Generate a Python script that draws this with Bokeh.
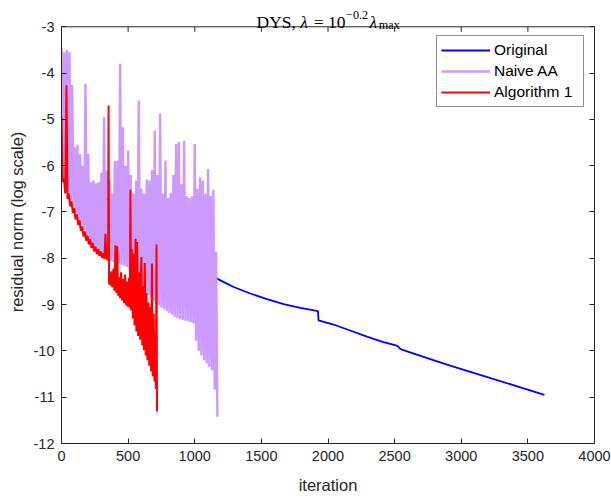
from bokeh.plotting import figure
from bokeh.models import Label, LinearAxis, FixedTicker, Range1d, Span
from bokeh.embed import file_html
from bokeh.resources import INLINE

# ---------------- data ----------------
x_ticks = [0, 500, 1000, 1500, 2000, 2500, 3000, 3500, 4000]
y_ticks = [-12, -11, -10, -9, -8, -7, -6, -5, -4, -3]

series_names = ["Original", "Naive AA", "Algorithm 1"]

# Original (blue)
orig_iter = [1, 20, 45, 75, 110, 155, 200, 250, 280, 330, 375, 420, 470, 530, 600,
             680, 760, 855, 945, 1030, 1104, 1140, 1167, 1230, 1292, 1417, 1542,
             1667, 1793, 1925, 1929, 2041, 2166, 2292, 2416, 2510, 2525, 2545, 2560,
             2666, 2791, 2917, 3141, 3391, 3624]
orig_res = [-5.90, -6.12, -6.28, -6.40, -6.62, -6.82, -7.00, -7.16, -7.25, -7.37, -7.46,
            -7.55, -7.63, -7.71, -7.78, -7.85, -7.91, -7.97, -8.01, -8.07, -8.13, -8.24,
            -8.44, -8.53, -8.62, -8.76, -8.88, -8.99, -9.07, -9.14, -9.34, -9.43, -9.56,
            -9.69, -9.81, -9.88, -9.90, -9.96, -9.98, -10.08, -10.20, -10.32, -10.52,
            -10.74, -10.95]

# Naive AA (purple): local peaks at iterations 0,20,...,1160 and troughs at 10,30,...,1170
naive_peak_iter = list(range(0, 1161, 20))
naive_peaks = [-3.45, -3.55, -3.50, -3.55, -4.25, -5.60, -5.55, -5.75, -6.00, -4.23,
               -5.75, -6.35, -6.32, -6.38, -6.35, -6.15, -4.95, -6.10, -6.30, -6.60,
               -5.90, -5.89, -3.80, -5.17, -6.00, -5.67, -6.20, -6.60, -6.32, -4.59,
               -6.50, -6.60, -6.30, -6.32, -6.10, -5.24, -6.20, -4.88, -6.60, -5.89,
               -6.70, -6.59, -6.20, -5.53, -5.49, -6.40, -5.46, -6.66, -6.70, -6.66,
               -5.53, -6.50, -6.25, -6.32, -6.60, -6.07, -6.65, -6.52, -7.86]
naive_trough_iter = list(range(10, 1171, 20))
naive_troughs = [-6.35, -6.50, -6.62, -6.75, -6.88, -7.02, -7.15, -7.28, -7.40, -7.50,
                 -7.60, -7.70, -7.78, -7.85, -7.90, -7.95, -8.00, -8.03, -8.06, -8.08,
                 -8.10, -8.12, -8.14, -8.16, -8.19, -8.24, -8.30, -8.36, -8.42, -8.52,
                 -8.65, -8.73, -8.80, -8.84, -8.92, -8.98, -9.02, -9.06, -9.10, -9.14,
                 -9.18, -9.22, -9.26, -9.29, -9.31, -9.33, -9.35, -9.36, -9.38, -9.40,
                 -9.78, -10.00, -10.10, -10.20, -10.27, -10.35, -10.42, -10.84, -11.42]

# Algorithm 1 (red)
alg1_iter = [0, 8, 18, 28, 37, 45, 55, 65, 75, 85, 95, 105, 115, 125, 135, 145, 155,
             165, 175, 185, 195, 205, 215, 225, 235, 245, 255, 265, 275, 285, 295, 305,
             315, 322, 330, 338, 345, 350, 353, 357, 362, 368, 375, 382, 390, 397, 405,
             412, 418, 425, 432, 440, 447, 455, 462, 470, 477, 485, 492, 500, 507, 513,
             517, 522, 528, 535, 542, 548, 556, 562, 568, 575, 582, 590, 596, 600, 606,
             612, 618, 625, 632, 638, 645, 652, 658, 665, 672, 679, 685, 692, 698, 703,
             708, 713, 717]
alg1_res = [-4.94, -6.35, -6.28, -6.60, -4.26, -6.72, -6.60, -6.88, -6.77, -7.02, -6.91,
            -7.16, -7.05, -7.28, -7.17, -7.41, -7.31, -7.53, -7.42, -7.62, -7.51, -7.70,
            -7.59, -7.78, -7.67, -7.85, -7.75, -7.91, -7.80, -7.95, -7.85, -7.99, -7.89,
            -8.01, -7.47, -8.03, -7.94, -8.05, -4.70, -8.56, -8.32, -8.59, -8.28, -8.63,
            -8.22, -8.70, -7.72, -8.75, -7.74, -8.81, -8.40, -8.86, -8.30, -8.91, -8.45,
            -8.97, -8.35, -9.02, -8.50, -9.05, -8.42, -9.07, -6.52, -9.12, -7.80, -9.30,
            -7.90, -9.45, -7.58, -9.58, -7.65, -9.68, -8.30, -9.76, -8.45, -7.97, -9.88,
            -8.60, -9.98, -8.10, -10.10, -8.75, -10.20, -8.95, -10.32, -9.05, -10.44,
            -8.11, -10.55, -9.20, -10.66, -9.60, -10.82, -7.70, -11.31]

# interleave peaks/troughs of the Naive AA record into one path
naive_iter, naive_res = [], []
for a, b, c, d in zip(naive_peak_iter, naive_peaks, naive_trough_iter, naive_troughs):
    naive_iter += [a, c]
    naive_res += [b, d]

# ---------------- figure ----------------
AX = "#262626"
SANS = "Liberation Sans"
SERIF = "Liberation Serif"

FRAME_H = 443          # frame spans canvas rows 0..443 (title drawn inside frame)
Y_TOP = -2.432         # puts y=-3 at canvas row ~26

p = figure(width=611, height=498, x_range=Range1d(0, 4000), y_range=Range1d(-12, Y_TOP),
           output_backend="svg", toolbar_location=None, title=None,
           min_border_left=61, min_border_right=17, min_border_top=0, min_border_bottom=55)
p.background_fill_color = "white"
p.border_fill_color = "white"
p.outline_line_color = None
p.xgrid.grid_line_color = None
p.ygrid.grid_line_color = None

p.line(orig_iter, orig_res, line_color="#0000FF", line_width=1.8, legend_label=series_names[0])
p.line(naive_iter, naive_res, line_color="#CC99FF", line_width=2.4, line_join="bevel",
       legend_label=series_names[1])
p.line(alg1_iter, alg1_res, line_color="#FF0000", line_width=2.0, line_join="bevel",
       legend_label=series_names[2])


def style_axis(ax, ticks, show_labels):
    ax.ticker = FixedTicker(ticks=ticks)
    ax.axis_line_color = AX
    ax.axis_line_width = 1
    ax.major_tick_line_color = AX
    ax.major_tick_in = 5
    ax.major_tick_out = 0
    ax.minor_tick_line_color = None
    ax.major_label_text_color = AX
    ax.major_label_text_font = SANS
    ax.major_label_text_font_size = "14.5px"
    if show_labels:
        ax.major_label_overrides = {t: str(t) for t in ticks}
    else:
        ax.major_label_overrides = {t: "" for t in ticks}
        ax.major_label_standoff = 0


xa = p.xaxis[0]
ya = p.yaxis[0]
style_axis(xa, x_ticks, True)
style_axis(ya, y_ticks, True)
ya.bounds = (y_ticks[0], y_ticks[-1])
xa.major_label_standoff = 7
ya.major_label_standoff = 7
xa.axis_label = "iteration"
ya.axis_label = "residual norm (log scale)"
for ax in (xa, ya):
    ax.axis_label_text_font = SANS
    ax.axis_label_text_font_size = "16.5px"
    ax.axis_label_text_font_style = "normal"
    ax.axis_label_text_color = AX
xa.axis_label_standoff = 12
ya.axis_label_standoff = 5

right_ax = LinearAxis()
style_axis(right_ax, y_ticks, False)
right_ax.bounds = (y_ticks[0], y_ticks[-1])
p.add_layout(right_ax, "right")

# top edge of the axes box with inward ticks
p.add_layout(Span(location=y_ticks[-1], dimension="width", line_color=AX, line_width=1))
px_per_unit = FRAME_H / (Y_TOP - y_ticks[0])
tick_len = 5 / px_per_unit
p.segment(x0=x_ticks, y0=[y_ticks[-1]] * len(x_ticks), x1=x_ticks,
          y1=[y_ticks[-1] - tick_len] * len(x_ticks), line_color=AX, line_width=1)

# legend
lg = p.legend[0]
lg.location = (375, 336)
lg.margin = 0
lg.padding = 4
lg.spacing = 1
lg.glyph_width = 49
lg.glyph_height = 20
lg.label_height = 20
lg.label_width = 85
lg.label_standoff = 4
lg.label_text_font = SANS
lg.label_text_font_size = "15.5px"
lg.label_text_color = "#000000"
lg.border_line_color = AX
lg.border_line_width = 1
lg.background_fill_color = "white"
lg.background_fill_alpha = 1.0

# title built from pieces: DYS, λ = 10^{-0.2} λ_max  (x in frame-relative pixels)
f = 17.5
k = f / 17.0
base_y = FRAME_H - 21          # baseline at canvas row 21
start_x = 195                  # canvas column ~256
pieces = [
    ("DYS,", 0.0, 0.0, f, "normal"),
    ("λ", 42.5, 0.0, f, "italic"),
    ("= 10", 55.7, 0.0, f, "normal"),
    ("−0.2", 87.0, 6.5, 12.2, "normal"),
    ("λ", 109.8, 0.0, f, "italic"),
    ("max", 118.8, -3.5, 12.2, "normal"),
]
for txt, dx, dy, size, style in pieces:
    p.add_layout(Label(x=start_x + dx * k, y=base_y + dy * k, x_units="screen", y_units="screen",
                       text=txt, text_font=SERIF, text_font_size=f"{size}px",
                       text_font_style=style, text_color="#000000",
                       text_baseline="alphabetic", text_align="left"))

open("out.html", "w").write(file_html(p, INLINE))
